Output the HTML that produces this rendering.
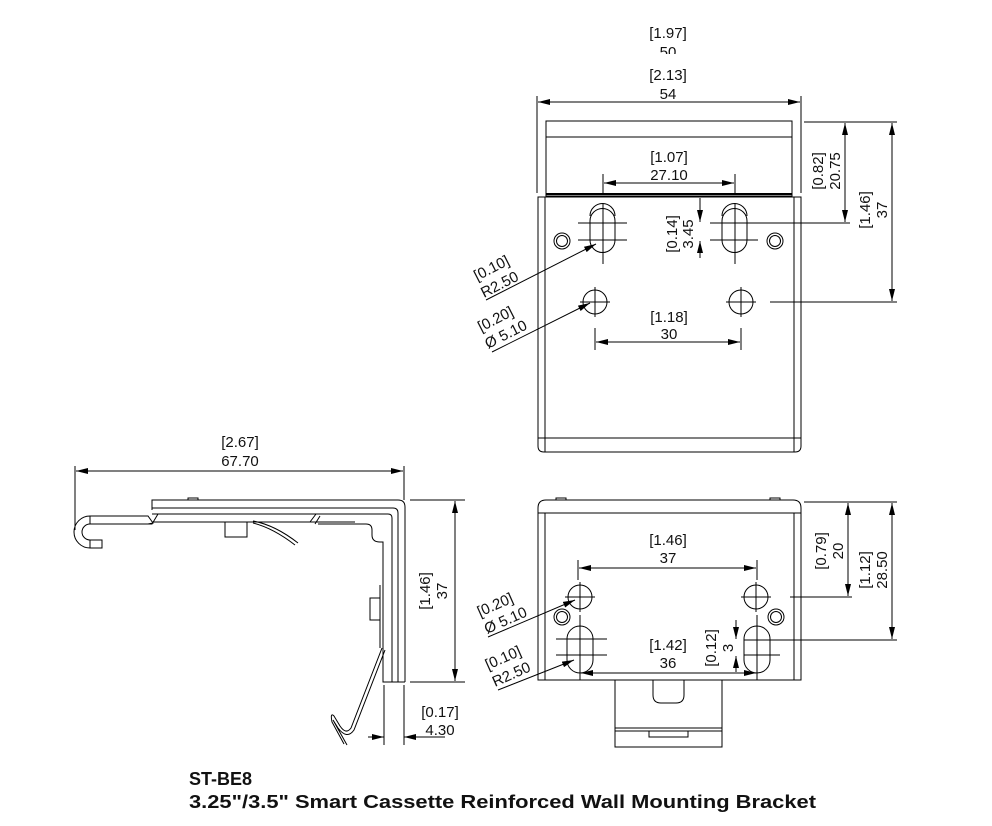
<!DOCTYPE html>
<html><head><meta charset="utf-8"><style>
html,body{margin:0;padding:0;background:#fff;}
svg{display:block}
text{font-family:"Liberation Sans",sans-serif;font-size:15px;fill:#111}
</style></head><body>
<svg width="992" height="826" viewBox="0 0 992 826" xmlns="http://www.w3.org/2000/svg">
<defs>
<marker id="a" viewBox="0 0 12 6" refX="12" refY="3" markerWidth="12" markerHeight="6" orient="auto-start-reverse" markerUnits="userSpaceOnUse"><path d="M0,0L12,3L0,6z" fill="#000"/></marker>
</defs>
<g fill="none" stroke="#000" stroke-width="1">
<!-- TOP VIEW -->
<line x1="537" y1="96" x2="537" y2="193"/><line x1="801" y1="96" x2="801" y2="193"/>
<line x1="538" y1="102" x2="800" y2="102" marker-start="url(#a)" marker-end="url(#a)"/>
<rect x="546" y="121" width="246" height="75"/>
<line x1="546" y1="137" x2="792" y2="137"/>
<line x1="546" y1="194" x2="792" y2="194" stroke-width="2"/>
<path d="M538,197 H801 V446 Q801,452 795,452 H544 Q538,452 538,446 Z"/>
<line x1="545" y1="197" x2="545" y2="452"/><line x1="794" y1="197" x2="794" y2="452"/>
<line x1="538" y1="438" x2="801" y2="438"/>
<line x1="603" y1="174" x2="603" y2="193"/><line x1="735" y1="174" x2="735" y2="193"/>
<line x1="604" y1="183" x2="734" y2="183" marker-start="url(#a)" marker-end="url(#a)"/>
<path d="M590,216 A12.5,12.5 0 0 1 615,216"/>
<path d="M590,221 A12.5,12.5 0 0 1 615,221 V240 A12.5,12.5 0 0 1 590,240 Z"/>
<path d="M722,216 A12.5,12.5 0 0 1 747,216"/>
<path d="M722,221 A12.5,12.5 0 0 1 747,221 V240 A12.5,12.5 0 0 1 722,240 Z"/>
<line x1="603" y1="203" x2="603" y2="264"/><line x1="578" y1="223" x2="627" y2="223"/><line x1="578" y1="240" x2="627" y2="240"/>
<line x1="735" y1="203" x2="735" y2="264"/><line x1="710" y1="240" x2="758" y2="240"/>
<line x1="710" y1="223" x2="850" y2="223"/>
<circle cx="562" cy="241" r="8"/><circle cx="562" cy="241" r="5.5"/>
<circle cx="775" cy="241" r="8"/><circle cx="775" cy="241" r="5.5"/>
<circle cx="595" cy="302" r="12"/><line x1="595" y1="287" x2="595" y2="317"/><line x1="580" y1="302" x2="610" y2="302"/>
<circle cx="741" cy="302" r="12"/><line x1="741" y1="287" x2="741" y2="317"/><line x1="726" y1="302" x2="756" y2="302"/>
<line x1="770" y1="302" x2="897" y2="302"/>
<line x1="595" y1="328" x2="595" y2="350"/><line x1="741" y1="328" x2="741" y2="350"/>
<line x1="596" y1="342" x2="740" y2="342" marker-start="url(#a)" marker-end="url(#a)"/>
<line x1="700" y1="198" x2="700" y2="222" marker-end="url(#a)"/>
<line x1="700" y1="258" x2="700" y2="241" marker-end="url(#a)"/>
<line x1="804" y1="122" x2="897" y2="122"/>
<line x1="845" y1="123" x2="845" y2="222" marker-start="url(#a)" marker-end="url(#a)"/>
<line x1="892" y1="123" x2="892" y2="301" marker-start="url(#a)" marker-end="url(#a)"/>
<line x1="486" y1="300" x2="596" y2="244" marker-end="url(#a)"/>
<line x1="492" y1="352" x2="590" y2="303" marker-end="url(#a)"/>

<!-- SIDE VIEW -->
<line x1="75" y1="466" x2="75" y2="530"/><line x1="404" y1="466" x2="404" y2="500"/>
<line x1="76" y1="471" x2="403" y2="471" marker-start="url(#a)" marker-end="url(#a)"/>
<path d="M152,510 V500 H398 Q405,500 405,507 V682"/>
<path d="M152,508 H393 Q398,508 398,513 V682"/>
<path d="M152,514 H388 Q392,514 392,518 V682"/>
<path d="M148,524 H152 L158,514"/>
<line x1="152" y1="522" x2="355" y2="522"/>
<path d="M90,516 H148 L153,523 L148,524 H90"/>
<path d="M90,516 A16,16 0 0 0 90,548 H102 V540 H90 A8,8 0 0 1 90,524"/>
<line x1="90" y1="516" x2="90" y2="524"/><line x1="90" y1="540" x2="90" y2="548"/>
<path d="M310,522 L316,514 M315,524 L320,516"/>
<path d="M318,524 H366 Q372,524 372,530 V535 Q372,542 380,542 H383 V682 H405"/>
<line x1="383" y1="552" x2="383" y2="682"/>
<rect x="225" y="522" width="22" height="15"/>
<rect x="188" y="498" width="10" height="2"/>
<path d="M253,521 Q275,525 298,543"/><path d="M253,523 Q273,528 295,545"/>
<rect x="370" y="598" width="10" height="22"/>
<path d="M380,585 V648"/>
<path d="M382,648 L351,728 Q346,735 340,726 L334,716 Q330,712 332,722 L344,744"/>
<path d="M385,650 L354,730 Q347,740 338,728 L333,720 L347,745"/>
<line x1="410" y1="500" x2="465" y2="500"/><line x1="410" y1="682" x2="465" y2="682"/>
<line x1="455" y1="501" x2="455" y2="681" marker-start="url(#a)" marker-end="url(#a)"/>
<line x1="384" y1="685" x2="384" y2="745"/><line x1="404" y1="685" x2="404" y2="745"/>
<line x1="368" y1="737" x2="384" y2="737" marker-end="url(#a)"/>
<line x1="445" y1="737" x2="404" y2="737" marker-end="url(#a)"/>

<!-- BOTTOM VIEW -->
<path d="M538,680 V508 Q538,500 546,500 H793 Q801,500 801,508 V680 Z"/>
<line x1="538" y1="513" x2="801" y2="513"/>
<line x1="545" y1="513" x2="545" y2="680"/><line x1="794" y1="513" x2="794" y2="680"/>
<rect x="556" y="498" width="10" height="2"/><rect x="770" y="498" width="10" height="2"/>
<path d="M615,680 V747 H722 V680"/>
<path d="M653,680 V695 Q653,703 661,703 H676 Q684,703 684,695 V680"/>
<line x1="615" y1="728" x2="722" y2="728"/><line x1="615" y1="731" x2="722" y2="731"/>
<path d="M649,731 V737 H688 V731"/>
<line x1="578" y1="560" x2="578" y2="580"/><line x1="757" y1="560" x2="757" y2="580"/>
<line x1="579" y1="568" x2="756" y2="568" marker-start="url(#a)" marker-end="url(#a)"/>
<circle cx="580" cy="597" r="12"/><line x1="580" y1="582" x2="580" y2="612"/><line x1="565" y1="597" x2="595" y2="597"/>
<circle cx="756" cy="597" r="12"/><line x1="756" y1="582" x2="756" y2="612"/><line x1="741" y1="597" x2="771" y2="597"/>
<line x1="790" y1="597" x2="852" y2="597"/>
<circle cx="562" cy="617" r="8"/><circle cx="562" cy="617" r="5.5"/>
<circle cx="776" cy="617" r="8"/><circle cx="776" cy="617" r="5.5"/>
<path d="M567,639 A13,13 0 0 1 593,639 V660 A13,13 0 0 1 567,660 Z"/>
<path d="M744,639 A13,13 0 0 1 770,639 V660 A13,13 0 0 1 744,660 Z"/>
<line x1="556" y1="639" x2="607" y2="639"/><line x1="556" y1="655" x2="607" y2="655"/>
<line x1="580" y1="615" x2="580" y2="680"/><line x1="757" y1="615" x2="757" y2="680"/>
<line x1="744" y1="655" x2="780" y2="655"/>
<line x1="744" y1="640" x2="897" y2="640"/>
<line x1="581" y1="673" x2="756" y2="673" marker-start="url(#a)" marker-end="url(#a)"/>
<line x1="736" y1="620" x2="736" y2="639" marker-end="url(#a)"/>
<line x1="736" y1="672" x2="736" y2="656" marker-end="url(#a)"/>
<line x1="804" y1="502" x2="897" y2="502"/>
<line x1="848" y1="503" x2="848" y2="596" marker-start="url(#a)" marker-end="url(#a)"/>
<line x1="892" y1="503" x2="892" y2="639" marker-start="url(#a)" marker-end="url(#a)"/>
<line x1="488" y1="637" x2="575" y2="600" marker-end="url(#a)"/>
<line x1="498" y1="690" x2="574" y2="660" marker-end="url(#a)"/>
</g>

<g text-anchor="middle">
<text x="668" y="38">[1.97]</text>
<text x="668" y="57">50</text>
<text x="668" y="80">[2.13]</text>
<text x="668" y="99">54</text>
<text x="669" y="162">[1.07]</text>
<text x="669" y="180">27.10</text>
<text x="669" y="322">[1.18]</text>
<text x="669" y="339">30</text>
<text x="240" y="447">[2.67]</text>
<text x="240" y="466">67.70</text>
<text x="440" y="717">[0.17]</text>
<text x="440" y="735">4.30</text>
<text x="668" y="545">[1.46]</text>
<text x="668" y="563">37</text>
<text x="668" y="650">[1.42]</text>
<text x="668" y="668">36</text>
</g>
<rect x="640" y="54" width="60" height="10" fill="#fff"/>
<g text-anchor="middle">
<text transform="translate(823,171) rotate(-90)">[0.82]</text>
<text transform="translate(840,171) rotate(-90)">20.75</text>
<text transform="translate(870,210) rotate(-90)">[1.46]</text>
<text transform="translate(887,210) rotate(-90)">37</text>
<text transform="translate(677,234) rotate(-90)">[0.14]</text>
<text transform="translate(693,234) rotate(-90)">3.45</text>
<text transform="translate(430,591) rotate(-90)">[1.46]</text>
<text transform="translate(447,591) rotate(-90)">37</text>
<text transform="translate(826,551) rotate(-90)">[0.79]</text>
<text transform="translate(843,551) rotate(-90)">20</text>
<text transform="translate(870,570) rotate(-90)">[1.12]</text>
<text transform="translate(887,570) rotate(-90)">28.50</text>
<text transform="translate(716,648) rotate(-90)">[0.12]</text>
<text transform="translate(733,648) rotate(-90)">3</text>
</g>
<text transform="translate(477,281) rotate(-27)">[0.10]</text>
<text transform="translate(484,298) rotate(-27)">R2.50</text>
<text transform="translate(481,332) rotate(-27)">[0.20]</text>
<text transform="translate(488,349) rotate(-27)">Ø 5.10</text>
<text transform="translate(480,617) rotate(-24)">[0.20]</text>
<text transform="translate(487,634) rotate(-24)">Ø 5.10</text>
<text transform="translate(488,670) rotate(-24)">[0.10]</text>
<text transform="translate(495,687) rotate(-24)">R2.50</text>
<text x="189" y="785" style="font-size:18px;font-weight:bold">ST-BE8</text>
<text x="189" y="808" style="font-size:18px;font-weight:bold" textLength="627" lengthAdjust="spacingAndGlyphs">3.25"/3.5" Smart Cassette Reinforced Wall Mounting Bracket</text>
</svg>
</body></html>
